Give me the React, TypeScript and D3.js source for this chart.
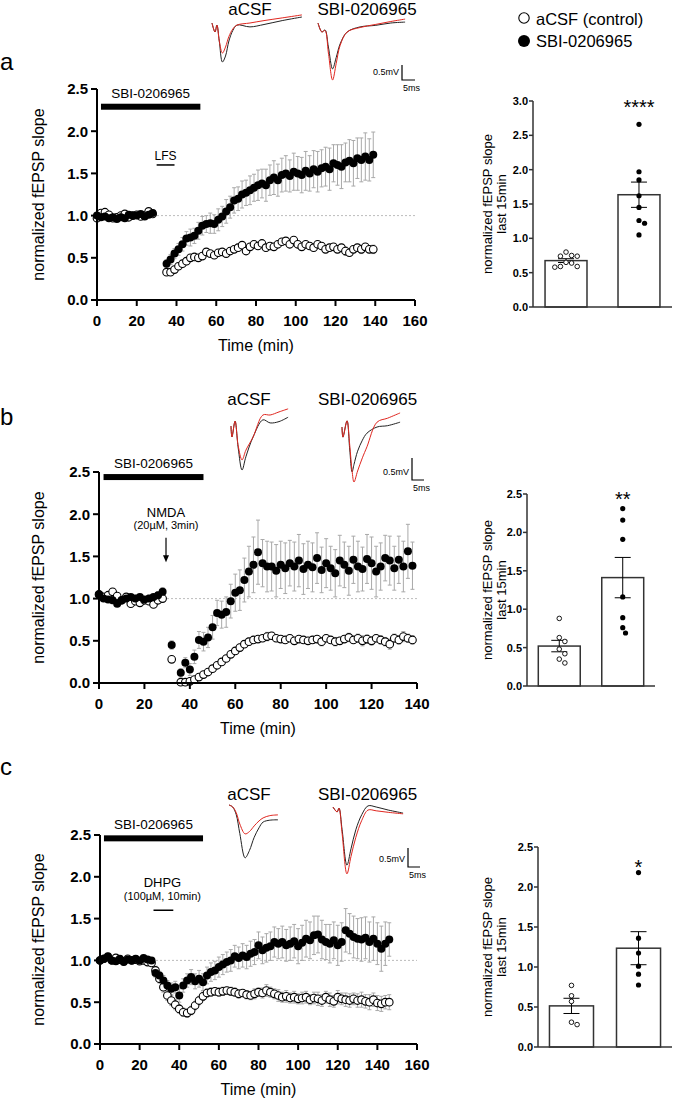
import React from "react";
import * as d3 from "d3";

const FONT = "'Liberation Sans', Arial, Helvetica, sans-serif";
const RED = "#e0261f";

// ---------- time-course sampling grids (min) ----------
const aBaseT = d3.range(0, 29, 2);
const aPostT = d3.range(35, 140, 2);
const bBaseT = d3.range(0, 29, 2);
const bDipT = [32];
const bPostT = d3.range(36, 139, 2);
const cBaseT = d3.range(0, 27, 2);
const cPostT = d3.range(28, 147, 2);

// ---------- panel a (LFS) ----------
const aCtrlBase = [0.97, 1.03, 1.04, 1.01, 0.97, 0.98, 1.0, 1.02, 0.98, 1.0, 1.01, 0.99, 1.0, 1.05, 1.02];
const aCtrlBaseErr = [0.02, 0.03, 0.03, 0.02, 0.02, 0.02, 0.02, 0.03, 0.02, 0.02, 0.02, 0.02, 0.02, 0.03, 0.02];
const aSbiBase = [1.0, 0.98, 0.99, 0.97, 0.98, 0.96, 0.98, 0.97, 1.01, 1.0, 1.0, 1.02, 0.99, 1.01, 1.03];
const aSbiBaseErr = [0.02, 0.02, 0.03, 0.02, 0.02, 0.02, 0.03, 0.02, 0.02, 0.02, 0.03, 0.02, 0.02, 0.02, 0.03];
const aCtrlPost = [0.33, 0.33, 0.36, 0.4, 0.43, 0.46, 0.5, 0.51, 0.5, 0.52, 0.57, 0.55, 0.53, 0.56, 0.57, 0.55, 0.58, 0.6, 0.62, 0.65, 0.58, 0.63, 0.66, 0.64, 0.67, 0.62, 0.64, 0.63, 0.66, 0.69, 0.7, 0.66, 0.71, 0.66, 0.63, 0.66, 0.64, 0.62, 0.66, 0.64, 0.6, 0.62, 0.63, 0.6, 0.62, 0.58, 0.56, 0.6, 0.62, 0.6, 0.63, 0.6, 0.6];
const aCtrlPostErr = [0.03, 0.03, 0.03, 0.04, 0.03, 0.04, 0.04, 0.03, 0.04, 0.03, 0.04, 0.03, 0.04, 0.04, 0.03, 0.04, 0.04, 0.03, 0.04, 0.04, 0.04, 0.03, 0.04, 0.04, 0.03, 0.04, 0.03, 0.04, 0.04, 0.03, 0.04, 0.04, 0.03, 0.04, 0.04, 0.03, 0.04, 0.04, 0.03, 0.04, 0.04, 0.04, 0.03, 0.04, 0.04, 0.05, 0.04, 0.04, 0.04, 0.05, 0.04, 0.04, 0.05];
const aSbiPost = [0.43, 0.48, 0.55, 0.6, 0.66, 0.73, 0.74, 0.76, 0.82, 0.88, 0.9, 0.91, 0.9, 0.95, 0.99, 1.05, 1.1, 1.18, 1.2, 1.25, 1.27, 1.3, 1.33, 1.36, 1.38, 1.36, 1.42, 1.45, 1.42, 1.48, 1.5, 1.47, 1.52, 1.5, 1.48, 1.53, 1.5, 1.55, 1.52, 1.56, 1.58, 1.55, 1.62, 1.6, 1.58, 1.63, 1.65, 1.62, 1.68, 1.66, 1.7, 1.66, 1.72];
const aSbiPostErr = [0.05, 0.06, 0.06, 0.07, 0.08, 0.08, 0.1, 0.09, 0.1, 0.11, 0.1, 0.12, 0.11, 0.13, 0.12, 0.14, 0.13, 0.15, 0.14, 0.16, 0.15, 0.17, 0.16, 0.18, 0.17, 0.19, 0.18, 0.2, 0.19, 0.2, 0.21, 0.19, 0.22, 0.2, 0.21, 0.23, 0.21, 0.22, 0.24, 0.22, 0.23, 0.25, 0.22, 0.24, 0.26, 0.23, 0.25, 0.27, 0.24, 0.26, 0.28, 0.25, 0.27];

// ---------- panel b (NMDA) ----------
const bCtrlBase = [1.05, 1.02, 1.04, 1.08, 1.03, 0.98, 1.02, 0.94, 0.97, 0.95, 0.98, 0.97, 0.93, 0.98, 1.0];
const bCtrlBaseErr = [0.03, 0.02, 0.03, 0.04, 0.03, 0.03, 0.02, 0.03, 0.03, 0.02, 0.03, 0.03, 0.02, 0.03, 0.03];
const bSbiBase = [1.05, 1.0, 0.99, 0.98, 0.94, 0.98, 1.0, 1.02, 1.0, 1.02, 0.99, 1.0, 1.02, 1.04, 1.08];
const bSbiBaseErr = [0.04, 0.03, 0.03, 0.04, 0.03, 0.04, 0.03, 0.03, 0.04, 0.03, 0.03, 0.04, 0.03, 0.04, 0.05];
const bCtrlDip = [0.28];
const bCtrlDipErr = [0.02];
const bSbiDip = [0.45];
const bSbiDipErr = [0.05];
const bCtrlPost = [0.01, 0.01, 0.02, 0.04, 0.07, 0.1, 0.13, 0.17, 0.21, 0.25, 0.29, 0.34, 0.38, 0.42, 0.46, 0.49, 0.51, 0.52, 0.53, 0.55, 0.56, 0.53, 0.52, 0.51, 0.53, 0.5, 0.52, 0.51, 0.5, 0.51, 0.52, 0.49, 0.53, 0.51, 0.49, 0.5, 0.52, 0.54, 0.51, 0.53, 0.5, 0.52, 0.5, 0.53, 0.51, 0.49, 0.46, 0.53, 0.51, 0.55, 0.53, 0.51];
const bCtrlPostErr = [0.01, 0.01, 0.01, 0.02, 0.02, 0.02, 0.02, 0.03, 0.03, 0.03, 0.03, 0.03, 0.04, 0.04, 0.04, 0.04, 0.04, 0.04, 0.04, 0.05, 0.04, 0.04, 0.04, 0.03, 0.04, 0.04, 0.03, 0.04, 0.04, 0.04, 0.04, 0.05, 0.04, 0.04, 0.05, 0.04, 0.04, 0.05, 0.04, 0.05, 0.06, 0.05, 0.05, 0.04, 0.05, 0.05, 0.06, 0.05, 0.05, 0.06, 0.05, 0.05];
const bSbiPost = [0.12, 0.24, 0.16, 0.31, 0.51, 0.49, 0.54, 0.66, 0.83, 0.81, 0.84, 0.97, 1.07, 1.1, 1.22, 1.32, 1.4, 1.55, 1.42, 1.38, 1.38, 1.33, 1.4, 1.36, 1.42, 1.38, 1.45, 1.35, 1.4, 1.37, 1.48, 1.34, 1.42, 1.36, 1.3, 1.45, 1.4, 1.33, 1.46, 1.38, 1.35, 1.47, 1.42, 1.32, 1.38, 1.48, 1.45, 1.36, 1.46, 1.38, 1.56, 1.39];
const bSbiPostErr = [0.05, 0.06, 0.07, 0.08, 0.1, 0.11, 0.12, 0.14, 0.15, 0.16, 0.18, 0.2, 0.22, 0.24, 0.26, 0.3, 0.33, 0.38, 0.28, 0.3, 0.29, 0.31, 0.28, 0.3, 0.27, 0.29, 0.31, 0.3, 0.28, 0.29, 0.3, 0.27, 0.29, 0.26, 0.28, 0.3, 0.27, 0.29, 0.28, 0.3, 0.26, 0.29, 0.31, 0.3, 0.28, 0.27, 0.29, 0.26, 0.28, 0.3, 0.32, 0.28];

// ---------- panel c (DHPG) ----------
const cCtrlBase = [1.0, 1.02, 1.04, 1.0, 1.03, 1.01, 0.99, 1.02, 1.0, 1.01, 0.99, 1.0, 0.98, 0.97];
const cCtrlBaseErr = [0.02, 0.02, 0.03, 0.02, 0.02, 0.02, 0.02, 0.02, 0.03, 0.02, 0.02, 0.02, 0.03, 0.03];
const cSbiBase = [1.0, 1.02, 1.05, 1.0, 0.99, 1.02, 0.98, 1.01, 1.0, 1.02, 1.0, 1.03, 1.01, 1.0];
const cSbiBaseErr = [0.02, 0.03, 0.03, 0.02, 0.02, 0.03, 0.02, 0.02, 0.02, 0.03, 0.02, 0.03, 0.02, 0.03];
const cCtrlPost = [0.88, 0.78, 0.68, 0.58, 0.52, 0.47, 0.42, 0.38, 0.37, 0.4, 0.46, 0.52, 0.57, 0.61, 0.62, 0.63, 0.62, 0.63, 0.64, 0.63, 0.62, 0.6, 0.61, 0.59, 0.58, 0.6, 0.62, 0.61, 0.64, 0.62, 0.6, 0.58, 0.56, 0.57, 0.55, 0.56, 0.54, 0.55, 0.56, 0.53, 0.55, 0.54, 0.52, 0.56, 0.53, 0.51, 0.56, 0.54, 0.53, 0.52, 0.54, 0.52, 0.53, 0.51, 0.5, 0.53, 0.49, 0.48, 0.5, 0.5];
const cCtrlPostErr = [0.05, 0.05, 0.06, 0.06, 0.06, 0.06, 0.05, 0.05, 0.05, 0.05, 0.05, 0.05, 0.05, 0.05, 0.05, 0.04, 0.05, 0.05, 0.04, 0.05, 0.05, 0.05, 0.04, 0.05, 0.05, 0.06, 0.05, 0.06, 0.07, 0.06, 0.06, 0.07, 0.06, 0.07, 0.06, 0.07, 0.06, 0.07, 0.07, 0.06, 0.07, 0.08, 0.07, 0.07, 0.08, 0.07, 0.08, 0.07, 0.08, 0.08, 0.07, 0.08, 0.09, 0.08, 0.09, 0.08, 0.09, 0.09, 0.08, 0.09];
const cSbiPost = [0.85, 0.82, 0.76, 0.7, 0.66, 0.68, 0.58, 0.7, 0.76, 0.8, 0.75, 0.78, 0.74, 0.82, 0.86, 0.88, 0.92, 0.95, 0.98, 1.0, 1.05, 1.03, 1.06, 1.04, 1.08, 1.1, 1.18, 1.12, 1.15, 1.17, 1.22, 1.2, 1.22, 1.18, 1.2, 1.23, 1.17, 1.21, 1.26, 1.24, 1.3, 1.31, 1.25, 1.22, 1.2, 1.24, 1.18, 1.22, 1.36, 1.32, 1.28, 1.26, 1.25, 1.27, 1.22, 1.26, 1.2, 1.14, 1.2, 1.25];
const cSbiPostErr = [0.05, 0.05, 0.06, 0.06, 0.07, 0.07, 0.08, 0.08, 0.08, 0.09, 0.09, 0.1, 0.1, 0.1, 0.11, 0.11, 0.12, 0.12, 0.12, 0.13, 0.13, 0.13, 0.14, 0.14, 0.15, 0.15, 0.16, 0.16, 0.17, 0.17, 0.18, 0.18, 0.19, 0.19, 0.2, 0.2, 0.21, 0.21, 0.22, 0.22, 0.23, 0.22, 0.23, 0.21, 0.23, 0.22, 0.24, 0.23, 0.26, 0.24, 0.25, 0.24, 0.26, 0.25, 0.24, 0.26, 0.25, 0.27, 0.26, 0.2];

// ---------- bar charts: last 15 min, individual slices ----------
const aBarCtrl = [0.8, 0.74, 0.74, 0.75, 0.64, 0.59, 0.58, 0.59, 0.65];
const aBarSbi = [2.66, 1.97, 1.85, 1.62, 1.45, 1.26, 1.22, 1.05];
const bBarCtrl = [0.88, 0.63, 0.58, 0.48, 0.42, 0.35, 0.3];
const bBarSbi = [2.31, 2.16, 1.91, 1.16, 0.89, 0.76, 0.69];
const cBarCtrl = [0.77, 0.64, 0.57, 0.31, 0.28];
const cBarSbi = [2.18, 1.36, 1.175, 1.01, 0.91, 0.775];

// ---------- example fEPSP traces (ms, mV) ----------
const aAcsfT = [0, 1.15, 1.9, 2.8, 4.0, 5.2, 6.5, 8, 9.6, 14.6, 20, 27, 34.6];
const aAcsfBlack = [0, -0.3, -0.07, -0.6, -1.3, -1.1, -0.6, -0.25, -0.07, -0.13, -0.05, 0.08, 0.2];
const aAcsfRed = [0, -0.3, -0.07, -0.6, -1.0, -0.8, -0.45, -0.2, -0.07, 0.0, 0.08, 0.17, 0.27];
const aSbiT = [0, 1.5, 2.7, 4.0, 5.6, 7.0, 8.5, 11.2, 16.2, 22, 28, 33.5];
const aSbiBlack = [0, -0.3, -0.23, -0.8, -1.53, -1.15, -0.7, -0.3, -0.13, -0.08, 0.0, 0.03];
const aSbiRed = [0, -0.3, -0.25, -1.0, -1.9, -1.35, -0.75, -0.3, -0.15, -0.05, 0.05, 0.13];

const bAcsfT = [0, 0.4, 1.7, 3.0, 4.6, 6.2, 9.2, 13.3, 16.3, 20, 23.8];
const bAcsfBlack = [0, -0.25, 0.11, -0.5, -1.0, -0.7, -0.25, 0.14, 0.07, 0.1, 0.2];
const bAcsfRed = [0, -0.25, 0.11, -0.45, -0.77, -0.55, -0.25, 0.25, 0.25, 0.32, 0.39];
const bSbiT = [0, 0.4, 2.1, 3.2, 4.2, 5.0, 6.5, 8.5, 10.4, 14.6, 19, 24.2];
const bSbiBlack = [0, -0.23, 0.14, -0.5, -1.02, -0.85, -0.55, -0.3, -0.14, 0.0, 0.03, 0.11];
const bSbiRed = [0, -0.23, 0.14, -0.4, -1.0, -1.25, -1.0, -0.7, -0.45, 0.11, 0.2, 0.32];

const cAcsfT = [0, 1.5, 3, 4.5, 6.7, 8.5, 10.5, 12.5, 14.2, 17, 20.4];
const cAcsfBlack = [0, -0.05, -0.25, -0.75, -1.39, -1.2, -0.85, -0.6, -0.45, -0.4, -0.39];
const cAcsfRed = [0, -0.05, -0.2, -0.5, -0.76, -0.7, -0.55, -0.42, -0.34, -0.28, -0.26];
const cSbiT = [0, 1.7, 2.5, 3.8, 5.8, 7.5, 9.5, 12, 14.6, 18, 23, 29.2];
const cSbiBlack = [0, -0.13, -0.03, -0.6, -1.53, -1.1, -0.6, -0.2, 0.03, 0.0, -0.08, -0.16];
const cSbiRed = [0, -0.13, -0.03, -0.7, -1.76, -1.3, -0.8, -0.35, -0.08, -0.1, -0.14, -0.18];

type Seg = { times: number[]; v: number[]; e: number[] };
const flat = (segs: Seg[]) =>
  segs.flatMap((s) => s.v.map((v, i) => ({ t: s.times[i], v, e: s.e[i] })));

function TimeCourse(p: any) {
  const x = d3.scaleLinear().domain([0, p.xMax]).range([p.left, p.right]);
  const y = d3.scaleLinear().domain([0, 2.5]).range([p.bottom, p.top]);
  const ctrl = flat(p.ctrl);
  const sbi = flat(p.sbi);
  const xTicks = d3.range(0, p.xMax + 1, 20);
  const yTicks = d3.range(0, 2.51, 0.5);
  const fmt = d3.format(".1f");
  const barY = y(p.drugLevel);
  const errs = [...ctrl, ...sbi];
  return (
    <g>
      <line x1={x(0)} x2={x(p.xMax)} y1={y(1)} y2={y(1)} stroke="#aaa" strokeWidth={0.8} strokeDasharray="2,2" />
      <g stroke="#a9a9a9" strokeWidth={1}>
        {errs.map((d, i) => (
          <g key={i}>
            <line x1={x(d.t)} x2={x(d.t)} y1={y(d.v - d.e)} y2={y(d.v + d.e)} />
            <line x1={x(d.t) - 2} x2={x(d.t) + 2} y1={y(d.v + d.e)} y2={y(d.v + d.e)} />
            <line x1={x(d.t) - 2} x2={x(d.t) + 2} y1={y(d.v - d.e)} y2={y(d.v - d.e)} />
          </g>
        ))}
      </g>
      {ctrl.map((d, i) => (
        <circle key={"c" + i} cx={x(d.t)} cy={y(d.v)} r={3.8} fill="#fff" stroke="#000" strokeWidth={1.1} />
      ))}
      {sbi.map((d, i) => (
        <circle key={"s" + i} cx={x(d.t)} cy={y(d.v)} r={4} fill="#000" />
      ))}
      {/* axes */}
      <g stroke="#000" strokeWidth={2}>
        <line x1={p.left} x2={p.left} y1={y(0)} y2={y(2.5)} />
        <line x1={p.left} x2={x(p.xMax)} y1={y(0)} y2={y(0)} />
        {yTicks.map((t) => (
          <line key={"yt" + t} x1={p.left - 6} x2={p.left} y1={y(t)} y2={y(t)} />
        ))}
        {xTicks.map((t) => (
          <line key={"xt" + t} x1={x(t)} x2={x(t)} y1={y(0)} y2={y(0) + 6} />
        ))}
      </g>
      <g fontSize={15} fontWeight="bold" fill="#000">
        {yTicks.map((t) => (
          <text key={"yl" + t} x={p.left - 9} y={y(t)} dy="0.36em" textAnchor="end">
            {fmt(t)}
          </text>
        ))}
        {xTicks.map((t) => (
          <text key={"xl" + t} x={x(t)} y={y(0) + 26} textAnchor="middle">
            {t}
          </text>
        ))}
      </g>
      <text x={(p.left + p.right) / 2} y={y(0) + 51} fontSize={16} textAnchor="middle">
        Time (min)
      </text>
      <text transform={`translate(44,${(p.top + p.bottom) / 2}) rotate(-90)`} fontSize={16} textAnchor="middle">
        normalized fEPSP slope
      </text>
      {/* drug application bar */}
      <rect x={x(p.drug[0])} y={barY - 3} width={x(p.drug[1]) - x(p.drug[0])} height={6} fill="#000" />
      <text x={(x(p.drug[0]) + x(p.drug[1])) / 2} y={barY - 9} fontSize={13.5} textAnchor="middle">
        SBI-0206965
      </text>
      {p.annot(x, y)}
    </g>
  );
}

function swarm(vals: number[], y: (v: number) => number, d: number) {
  const placed: { x: number; y: number }[] = [];
  const offs: number[] = new Array(vals.length).fill(0);
  const order = vals.map((_, i) => i).sort((a, b) => vals[b] - vals[a]);
  for (const i of order) {
    const py = y(vals[i]);
    for (let k = 0; k < 60; k++) {
      const c = k === 0 ? 0 : (k % 2 ? 1 : -1) * Math.ceil(k / 2) * d * 0.5;
      if (placed.every((q) => Math.hypot(q.x - c, q.y - py) >= d)) {
        offs[i] = c;
        placed.push({ x: c, y: py });
        break;
      }
    }
  }
  return offs;
}

function BarPanel(p: any) {
  const y = d3.scaleLinear().domain([0, p.yMax]).range([p.y0, p.yTop]);
  const x = d3
    .scaleBand()
    .domain(["ctrl", "sbi"])
    .range([p.axisX, p.axisEnd])
    .paddingInner(p.pi)
    .paddingOuter(p.po);
  const ticks = d3.range(0, p.yMax + 0.01, 0.5);
  const fmt = d3.format(".1f");
  const groups = [
    { key: "ctrl", vals: p.ctrl, open: true },
    { key: "sbi", vals: p.sbi, open: false },
  ];
  return (
    <g>
      {groups.map((g) => {
        const m = d3.mean(g.vals) as number;
        const sem = (d3.deviation(g.vals) as number) / Math.sqrt(g.vals.length);
        const bx = x(g.key) as number;
        const bw = x.bandwidth();
        const cx = bx + bw / 2;
        const offs = swarm(g.vals, y, 5.6);
        return (
          <g key={g.key}>
            <rect x={bx} y={y(m)} width={bw} height={y(0) - y(m)} fill="#fff" stroke="#333" strokeWidth={1.5} />
            <g stroke="#000" strokeWidth={1}>
              <line x1={cx} x2={cx} y1={y(m - sem)} y2={y(m + sem)} />
              <line x1={cx - 8} x2={cx + 8} y1={y(m + sem)} y2={y(m + sem)} />
              <line x1={cx - 8} x2={cx + 8} y1={y(m - sem)} y2={y(m - sem)} />
            </g>
            {g.vals.map((v: number, i: number) =>
              g.open ? (
                <circle key={i} cx={cx + offs[i]} cy={y(v)} r={2.3} fill="#fff" stroke="#000" strokeWidth={0.9} />
              ) : (
                <circle key={i} cx={cx + offs[i]} cy={y(v)} r={2.6} fill="#000" />
              )
            )}
          </g>
        );
      })}
      <g stroke="#333" strokeWidth={1.5}>
        <line x1={p.axisX} x2={p.axisX} y1={y(0)} y2={y(p.yMax)} />
        <line x1={p.axisX} x2={p.axisEnd} y1={y(0)} y2={y(0)} />
        {ticks.map((t) => (
          <line key={t} x1={p.axisX - 4} x2={p.axisX} y1={y(t)} y2={y(t)} />
        ))}
      </g>
      <g fontSize={11} fontWeight="bold">
        {ticks.map((t) => (
          <text key={t} x={p.axisX - 5} y={y(t)} dy="0.36em" textAnchor="end">
            {fmt(t)}
          </text>
        ))}
      </g>
      <text
        x={(x("sbi") as number) + x.bandwidth() / 2}
        y={y(p.starVal) + 11.4}
        fontSize={20}
        textAnchor="middle"
      >
        {p.stars}
      </text>
      <g fontSize={13} textAnchor="middle">
        <text transform={`translate(492,${(p.y0 + p.yTop) / 2}) rotate(-90)`}>normalized fEPSP slope</text>
        <text transform={`translate(506,${(p.y0 + p.yTop) / 2}) rotate(-90)`}>last 15min</text>
      </g>
    </g>
  );
}

function Traces(p: any) {
  const mk = (t: number[], ox: number, oy: number) => {
    const x = d3.scaleLinear().domain([0, 1]).range([ox, ox + p.msPx]);
    const y = d3.scaleLinear().domain([0, 1]).range([oy, oy - p.mvPx]);
    return d3
      .line<number>()
      .x((_, i) => x(t[i]))
      .y((v) => y(v))
      .curve(d3.curveCatmullRom.alpha(0.5));
  };
  const la = mk(p.acsfT, p.acsfO[0], p.acsfO[1]);
  const ls = mk(p.sbiT, p.sbiO[0], p.sbiO[1]);
  const [sx, sy] = p.bar;
  return (
    <g>
      <g fill="none" strokeWidth={1}>
        <path d={la(p.acsfBlack) as string} stroke="#222" />
        <path d={la(p.acsfRed) as string} stroke={RED} />
        <path d={ls(p.sbiBlack) as string} stroke="#222" />
        <path d={ls(p.sbiRed) as string} stroke={RED} />
      </g>
      <text x={p.acsfLabel[0]} y={p.acsfLabel[1]} fontSize={17} textAnchor="middle">
        aCSF
      </text>
      <text x={p.sbiLabel[0]} y={p.sbiLabel[1]} fontSize={17} textAnchor="middle">
        SBI-0206965
      </text>
      <g stroke="#000" strokeWidth={1.2} fill="none">
        <path d={`M${sx},${sy - 0.5 * p.mvPx}V${sy}H${sx + 5 * p.msPx}`} />
      </g>
      <text x={sx - 3} y={sy - 5} fontSize={9} textAnchor="end">
        0.5mV
      </text>
      <text x={sx + 9.5} y={sy + 11} fontSize={9} textAnchor="middle">
        5ms
      </text>
    </g>
  );
}

export default function App() {
  return (
    <svg
      width={673}
      height={1100}
      style={{ position: "absolute", left: 0, top: 0, display: "block" }}
      fontFamily={FONT}
    >
      <rect width={673} height={1100} fill="#fff" />

      {/* legend */}
      <circle cx={524} cy={18} r={5.2} fill="#fff" stroke="#000" strokeWidth={1.1} />
      <text x={536} y={24.5} fontSize={16.5}>aCSF (control)</text>
      <circle cx={524} cy={41} r={6} fill="#000" />
      <text x={536} y={47} fontSize={16.5}>SBI-0206965</text>

      {/* panel labels */}
      <text x={0} y={70} fontSize={24}>a</text>
      <text x={0} y={425} fontSize={24}>b</text>
      <text x={0} y={775} fontSize={24}>c</text>

      {/* ---------- panel a ---------- */}
      <Traces
        msPx={2.6}
        mvPx={30}
        acsfT={aAcsfT}
        acsfBlack={aAcsfBlack}
        acsfRed={aAcsfRed}
        acsfO={[212, 23]}
        sbiT={aSbiT}
        sbiBlack={aSbiBlack}
        sbiRed={aSbiRed}
        sbiO={[318, 23]}
        acsfLabel={[250, 15]}
        sbiLabel={[367, 15]}
        bar={[402, 80]}
      />
      <TimeCourse
        left={97}
        right={415}
        top={89}
        bottom={300}
        xMax={160}
        drug={[2, 52]}
        drugLevel={2.29}
        ctrl={[
          { times: aBaseT, v: aCtrlBase, e: aCtrlBaseErr },
          { times: aPostT, v: aCtrlPost, e: aCtrlPostErr },
        ]}
        sbi={[
          { times: aBaseT, v: aSbiBase, e: aSbiBaseErr },
          { times: aPostT, v: aSbiPost, e: aSbiPostErr },
        ]}
        annot={(x: any, y: any) => (
          <g>
            <text x={x(34.5)} y={y(1.66)} fontSize={12} textAnchor="middle">LFS</text>
            <line x1={x(30)} x2={x(39)} y1={y(1.6)} y2={y(1.6)} stroke="#000" strokeWidth={1.5} />
          </g>
        )}
      />
      <BarPanel
        axisX={533}
        axisEnd={672}
        y0={307}
        yTop={101}
        yMax={3.0}
        pi={0.425}
        po={0.165}
        ctrl={aBarCtrl}
        sbi={aBarSbi}
        stars="****"
        starVal={2.97}
      />

      {/* ---------- panel b ---------- */}
      <Traces
        msPx={2.4}
        mvPx={44}
        acsfT={bAcsfT}
        acsfBlack={bAcsfBlack}
        acsfRed={bAcsfRed}
        acsfO={[231, 426]}
        sbiT={bSbiT}
        sbiBlack={bSbiBlack}
        sbiRed={bSbiRed}
        sbiO={[342, 427]}
        acsfLabel={[249, 405]}
        sbiLabel={[367.5, 405]}
        bar={[412, 480]}
      />
      <TimeCourse
        left={99}
        right={417}
        top={472}
        bottom={683}
        xMax={140}
        drug={[2, 46]}
        drugLevel={2.44}
        ctrl={[
          { times: bBaseT, v: bCtrlBase, e: bCtrlBaseErr },
          { times: bDipT, v: bCtrlDip, e: bCtrlDipErr },
          { times: bPostT, v: bCtrlPost, e: bCtrlPostErr },
        ]}
        sbi={[
          { times: bBaseT, v: bSbiBase, e: bSbiBaseErr },
          { times: bDipT, v: bSbiDip, e: bSbiDipErr },
          { times: bPostT, v: bSbiPost, e: bSbiPostErr },
        ]}
        annot={(x: any, y: any) => (
          <g>
            <text x={x(29.5)} y={y(1.97)} fontSize={13} textAnchor="middle">NMDA</text>
            <text x={x(29.5)} y={y(1.82)} fontSize={11} textAnchor="middle">(20µM, 3min)</text>
            <line x1={x(29.5)} x2={x(29.5)} y1={y(1.72)} y2={y(1.43) - 5} stroke="#000" strokeWidth={1.2} />
            <path
              d={`M${x(29.5) - 3},${y(1.43) - 7}L${x(29.5) + 3},${y(1.43) - 7}L${x(29.5)},${y(1.43)}Z`}
              fill="#000"
            />
          </g>
        )}
      />
      <BarPanel
        axisX={527}
        axisEnd={655}
        y0={686}
        yTop={494}
        yMax={2.5}
        pi={0.339}
        po={0.178}
        ctrl={bBarCtrl}
        sbi={bBarSbi}
        stars="**"
        starVal={2.49}
      />

      {/* ---------- panel c ---------- */}
      <Traces
        msPx={2.4}
        mvPx={38}
        acsfT={cAcsfT}
        acsfBlack={cAcsfBlack}
        acsfRed={cAcsfRed}
        acsfO={[229, 805]}
        sbiT={cSbiT}
        sbiBlack={cSbiBlack}
        sbiRed={cSbiRed}
        sbiO={[333, 807]}
        acsfLabel={[249, 800]}
        sbiLabel={[367.5, 800]}
        bar={[408, 867]}
      />
      <TimeCourse
        left={100}
        right={417}
        top={835}
        bottom={1044}
        xMax={160}
        drug={[2, 52]}
        drugLevel={2.46}
        ctrl={[
          { times: cBaseT, v: cCtrlBase, e: cCtrlBaseErr },
          { times: cPostT, v: cCtrlPost, e: cCtrlPostErr },
        ]}
        sbi={[
          { times: cBaseT, v: cSbiBase, e: cSbiBaseErr },
          { times: cPostT, v: cSbiPost, e: cSbiPostErr },
        ]}
        annot={(x: any, y: any) => (
          <g>
            <text x={x(31.5)} y={y(1.88)} fontSize={13} textAnchor="middle">DHPG</text>
            <text x={x(31.5)} y={y(1.72)} fontSize={11} textAnchor="middle">(100µM, 10min)</text>
            <line x1={x(27)} x2={x(37)} y1={y(1.6)} y2={y(1.6)} stroke="#000" strokeWidth={1.5} />
          </g>
        )}
      />
      <BarPanel
        axisX={538}
        axisEnd={672}
        y0={1047}
        yTop={847}
        yMax={2.5}
        pi={0.343}
        po={0.171}
        ctrl={cBarCtrl}
        sbi={cBarSbi}
        stars="*"
        starVal={2.31}
      />
    </svg>
  );
}
